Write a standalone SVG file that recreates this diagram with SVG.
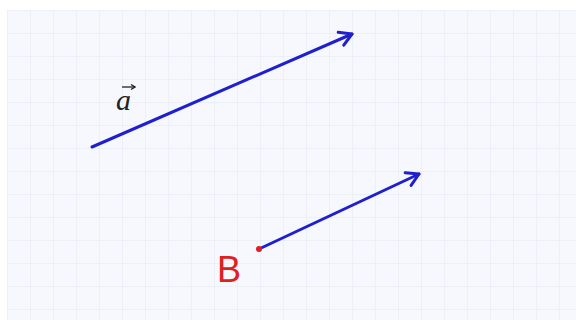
<svg xmlns="http://www.w3.org/2000/svg" width="576" height="329" viewBox="0 0 576 329">
<defs>
<pattern id="grid" x="7" y="10" width="23" height="23" patternUnits="userSpaceOnUse">
<rect width="23" height="23" fill="#f6f8fe"/>
<path d="M0,0 H23 M0,0 V23" stroke="#e3e8f5" stroke-width="1" fill="none"/>
</pattern>
<marker id="head" viewBox="-14 -9 16 18" markerWidth="16" markerHeight="18" refX="0" refY="0" orient="auto" markerUnits="userSpaceOnUse">
<path d="M-12,-7 L0,0 L-12,7" fill="none" stroke="#1f1fd0" stroke-width="3" stroke-linecap="round" stroke-linejoin="round"/>
</marker>
<marker id="small" viewBox="-5 -4 6 8" markerWidth="6" markerHeight="8" refX="0" refY="0" orient="auto" markerUnits="userSpaceOnUse">
<path d="M-4,-2.5 L0,0 L-4,2.5" fill="none" stroke="#222" stroke-width="1.3"/>
</marker>
<style>
.vec{stroke:#1f1fd0;stroke-width:3;fill:none;stroke-linecap:round;marker-end:url(#head)}
</style>
</defs>
<rect width="576" height="329" fill="#ffffff"/>
<rect x="7" y="10" width="569" height="310" fill="url(#grid)"/>
<g id="connectors">
<line class="vec" x1="92" y1="147" x2="352" y2="34"/>
<line class="vec" x1="259" y1="249" x2="419" y2="174"/>
</g>
<g id="label-a">
<text x="116" y="110" font-family="Liberation Serif, serif" font-style="italic" font-size="30" fill="#222">a</text>
<line x1="122" y1="87" x2="135" y2="87" stroke="#222" stroke-width="1.3" marker-end="url(#small)"/>
</g>
<g id="point-B">
<circle cx="259" cy="249" r="3" fill="#e02020"/>
<text x="217" y="282" font-family="Liberation Sans, Arial, sans-serif" font-size="36" fill="#e02020">B</text>
</g>
</svg>
